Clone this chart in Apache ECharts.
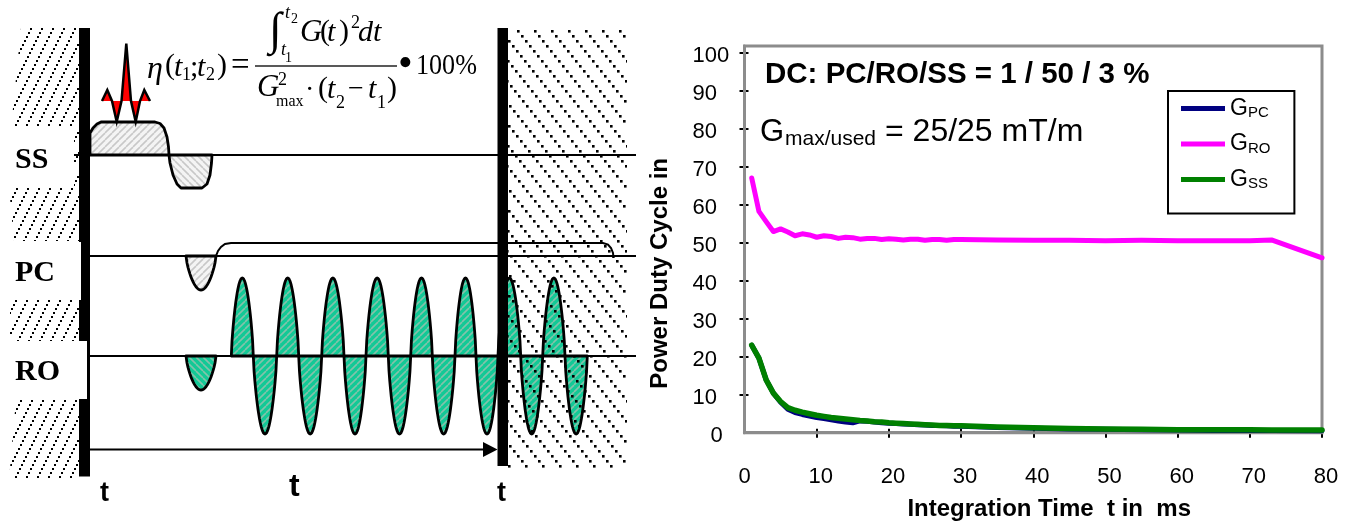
<!DOCTYPE html>
<html><head><meta charset="utf-8">
<style>html,body{margin:0;padding:0;background:#fff}#c{width:1359px;height:522px}</style>
<script src="https://cdn.jsdelivr.net/npm/echarts@6/dist/echarts.min.js"></script>
</head><body><div id="c"></div>
<script>
// ---- right panel data ----
const integrationTime = [1,2,3,4,5,6,7,8,9,10,11,12,13,14,15,16,17,18,19,20,21,22,23,24,25,26,27,28,29,30,35,40,45,50,55,60,65,70,73,80];
const gPC = [23,19.6,13.9,10.4,8,6.2,5.3,4.8,4.4,4,3.7,3.4,3.1,2.8,2.6,3.1,3,2.8,2.6,2.5,2.4,2.3,2.2,2.1,2,1.9,1.9,1.8,1.7,1.7,1.4,1.2,1,.9,.8,.7,.6,.6,.6,.5];
const gRO = [67,58.2,55.5,52.9,53.6,52.8,51.8,52.3,52,51.4,51.8,51.6,51.1,51.4,51.3,50.9,51.1,51.1,50.8,51,50.9,50.7,50.9,50.9,50.6,50.8,50.8,50.6,50.8,50.8,50.7,50.6,50.6,50.5,50.6,50.5,50.5,50.5,50.7,46];
const gSS = [23,19.6,13.9,10.4,8.2,6.6,5.9,5.4,5,4.6,4.3,4,3.8,3.6,3.4,3.2,3.1,2.9,2.8,2.6,2.5,2.4,2.3,2.2,2.1,2,1.9,1.9,1.8,1.8,1.5,1.3,1.1,1,.9,.8,.8,.8,.7,.7];
const yTicks = [0,10,20,30,40,50,60,70,80,90,100];
const xTicks = [0,10,20,30,40,50,60,70,80];

// ---- pulse-sequence schematic (left panel), in schematic units ----
const baselineSS = 155, baselinePC = 256, baselineRO = 356;
const baselines = [[[74,155],[636,155]],[[81,256],[636,256]],[[88,356],[636,356]]];
const timeArrow = [[90,449.5],[484,449.5]];
const arrowHead = [[[483,442],[497.5,449.5],[483,457]]];
const wallBars = [[79,28,90,242],[81,242,90,300],[79,300,90,341],[87,341,90,399],[79,399,90,476.5],[497.5,28,508,466]];
const ssLobes = [
  [[90,155],[90,133],[93,128],[97,124],[101,122],[155,122],[160,123.5],[164,128],[167,137],[168.5,147],[169,155]],
  [[169,155],[170,163],[173,175],[177,184],[181,188],[202,188],[207,184],[210,175],[211.5,163],[212,155]]
];
const pcPrephase = [[186,216,-34]];
const pcPlateau = [[[216,256],[218,251],[221,247],[225,244],[231,243],[603,243],[608,244.5],[611,248],[613,253],[613.5,258]]];
const roPrephase = [[186,216,-34]];
const roLobes = [[231.3,253.3,78],[253.3,276.7,-78],[276.7,298.7,78],[298.7,321.7,-78],[321.7,344,78],[344,366,-78],[366,388.3,78],[388.3,410.7,-78],[410.7,432.3,78],[432.3,455,-78],[455,476,78],[476,498,-78],[498,520.7,78],[520.7,542.7,-78],[542.7,565,78],[565,587.3,-78]];
const rfOutline = [[[102,101],[107.3,90],[112,101],[116.7,121.7],[121.5,101],[126.3,43.5],[131,101],[135.7,121.7],[140,101],[144.3,90],[150,101]]];
const leftDots = [
  [[21,28],[79,28],[79,128],[11,128]],
  [[74,128],[79,128],[79,187],[74,187]],
  [[9,187],[79,187],[79,241],[14,241]],
  [[10,300],[79,300],[79,341],[10,341]],
  [[16,399],[79,399],[79,480],[9,480]]
];
const rightDots = [[[508,28],[627,28],[627,470],[508,470]]];

// ---- texts ----
const serif = 'Liberation Serif', sans = 'Liberation Sans';
const formulaBits = [
  ['η',147,70,32,1],['(',165,66,30,0],['t',174,68,30,1],['1',182,75,18,0],[';',190,68,30,0],['t',197,68,30,1],['2',206,75,18,0],[')',217,66,30,0],['=',231,66,33,0],
  ['∫',269,32,46,1],['t',285,13,18,1],['2',291,19,14,0],['t',281,50,18,1],['1',285,58,14,0],
  ['G',300,33,31,1],['(',320,32,30,0],['t',327,33,30,1],[')',339,32,30,0],['2',351,23,18,0],['d',358,33,30,1],['t',373,33,30,1],
  ['G',257,88,31,1],['2',278,80,18,0],['max',276,102,16,0],['·',305,91,28,0],['(',318,89,30,0],['t',327,90,30,1],['2',336,103,18,0],['−',348,90,28,0],['t',368,90,30,1],['1',377,103,18,0],[')',387,89,30,0]
  ,['•',398,65,42,0]
];

function dotPattern(ax, ay, w, h, s) {
  const c = document.createElement('canvas'); c.width = w; c.height = h;
  const g = c.getContext('2d'); g.fillStyle = '#000';
  const n = Math.round(h / Math.abs(ay));
  for (let i = 0; i < n; i++) {
    const x = ((i * ax) % w + w) % w, y = ((i * ay) % h + h) % h;
    [0, -w].forEach(dx => [0, -h].forEach(dy => g.fillRect(x + dx, y + dy, s, s)));
  }
  return { image: c, repeat: 'repeat' };
}
function hatch(base, stripe, dir, lw) {
  const s = 7, c = document.createElement('canvas'); c.width = s; c.height = s;
  const g = c.getContext('2d'); g.fillStyle = base; g.fillRect(0,0,s,s);
  g.strokeStyle = stripe; g.lineWidth = lw;
  for (let k = -s; k <= 2*s; k += s) {
    g.beginPath();
    if (dir > 0) { g.moveTo(k, s); g.lineTo(k + s, 0); } else { g.moveTo(k, 0); g.lineTo(k + s, s); }
    g.stroke();
  }
  return { image: c, repeat: 'repeat' };
}
function lobeOutline(base, l, pow) {
  const pts = [], n = 30;
  for (let i = 0; i <= n; i++) {
    const t = i / n;
    pts.push([l[0] + (l[1]-l[0]) * t, base - l[2] * Math.pow(Math.sin(Math.PI * t), pow)]);
  }
  return pts;
}
function shapeSeries(name, kind, shapes, style, z) {
  return {
    type: 'custom', name, xAxisIndex: 2, yAxisIndex: 2, z, clip: false, silent: true, coordinateSystem: 'cartesian2d',
    data: shapes.map(s => [s[0][0], s[0][1]]),
    renderItem(params, api) {
      return { type: kind, shape: { points: shapes[params.dataIndex].map(p => api.coord(p)) }, style: Object.assign({}, style) };
    }
  };
}
const greyUp = hatch('#f4f4f4', '#c8c8c8', 1, 1.6), greyDown = hatch('#f4f4f4', '#c8c8c8', -1, 1.6);
const greenUp = hatch('#12c996', '#84c2aa', 1, 1.6), greenDown = hatch('#12c996', '#84c2aa', -1, 1.6);
const ink = { stroke: '#000', lineWidth: 2.8, lineJoin: 'round' };
const rects = wallBars.map(b => [[b[0],b[1]],[b[2],b[1]],[b[2],b[3]],[b[0],b[3]]]);
const roPos = roLobes.filter(l => l[2] > 0).map(l => lobeOutline(baselineRO, l, .72));
const roNeg = roLobes.filter(l => l[2] < 0).map(l => lobeOutline(baselineRO, l, .72));

const schematic = [
  shapeSeries('ssPos','polygon',[ssLobes[0]],Object.assign({fill:greyUp},ink),3),
  shapeSeries('ssNeg','polygon',[ssLobes[1]],Object.assign({fill:greyDown},ink),3),
  shapeSeries('pcNeg','polygon',pcPrephase.map(l=>lobeOutline(baselinePC,l,.7)),Object.assign({fill:greyUp},ink),3),
  shapeSeries('roPre','polygon',roPrephase.map(l=>lobeOutline(baselineRO,l,.7)),Object.assign({fill:greenDown},ink),3),
  shapeSeries('roPos','polygon',roPos,Object.assign({fill:greenUp},ink),3),
  shapeSeries('roNeg','polygon',roNeg,Object.assign({fill:greenUp},ink),3),
  shapeSeries('rfFill','polygon',rfOutline,{fill:'#ff0000'},3),
  shapeSeries('rfLine','polyline',rfOutline,{fill:null,stroke:'#000',lineWidth:2.5,lineJoin:'miter'},4),
  shapeSeries('pcPlateau','polyline',pcPlateau,{fill:null,stroke:'#000',lineWidth:2},4),
  shapeSeries('leftDots','polygon',leftDots,{fill:dotPattern(2,-4,11,44,2)},5),
  shapeSeries('rightDots','polygon',rightDots,{fill:dotPattern(4,5,17,85,2.6)},5),
  shapeSeries('baselines','polyline',baselines,{fill:null,stroke:'#000',lineWidth:2},6),
  shapeSeries('arrow','polyline',[timeArrow],{fill:null,stroke:'#000',lineWidth:2},6),
  shapeSeries('arrowHead','polygon',arrowHead,{fill:'#000'},6),
  shapeSeries('bars','polygon',rects,{fill:'#000'},7)
];

const txt = (text, x, y, font, size, opt) => ({
  type: 'text', x, y, z: 50, silent: true, scaleX: (opt && opt.sx) || 1,
  style: { text, fontFamily: font, fontSize: size, fontWeight: (opt && opt.bold) ? 'bold' : 'normal', fontStyle: (opt && opt.italic) ? 'italic' : 'normal', fill: '#000', verticalAlign: 'middle', align: 'left' }
});
const graphics = [
  ...formulaBits.map(b => txt(b[0], b[1], b[2], serif, b[3], { italic: !!b[4] })),
  { type: 'rect', z: 50, silent: true, shape: { x: 255, y: 65.2, width: 142, height: 1.5 }, style: { fill: '#222' } },
  txt('100%', 416, 66, serif, 29, { sx: .9 }),
  txt('SS', 15, 160, serif, 30, { bold: true }),
  txt('PC', 15, 273, serif, 30, { bold: true }),
  txt('RO', 15, 372, serif, 30, { bold: true }),
  txt('t', 100, 494, sans, 27, { bold: true }),
  txt('t', 289, 487, sans, 32, { bold: true }),
  txt('t', 497, 494, sans, 27, { bold: true }),
  txt('DC: PC/RO/SS = 1 / 50 / 3 %', 765, 75, sans, 29.5, { bold: true }),
  txt('G', 760, 132, sans, 31),
  txt('max/used', 785, 139, sans, 21),
  txt('= 25/25 mT/m', 885, 132, sans, 32)
];

const line = (name, data, color, width, z) => ({
  type: 'line', name, xAxisIndex: 0, yAxisIndex: 0, z, clip: false, showSymbol: false, symbol: 'none',
  data: integrationTime.map((t, i) => [t, data[i]]),
  lineStyle: { color, width, cap: 'round', join: 'round' }, itemStyle: { color }
});
const hidden = { axisLine: { show: false }, axisLabel: { show: false }, splitLine: { show: false } };
const tickStyle = { lineStyle: { color: '#000', width: 2 } };
const yMax = 101.7;

const option = {
  animation: false, backgroundColor: '#fff',
  grid: [
    { left: 744.5, right: 37, top: 46, bottom: 89.3, show: true, borderColor: '#8c8c8c', borderWidth: 3, backgroundColor: 'transparent', z: 1, outerBoundsMode: 'none', containLabel: false },
    { left: 0, top: 0, width: 640, height: 522, show: false, outerBoundsMode: 'none' }
  ],
  xAxis: [
    { type: 'value', gridIndex: 0, min: 0, max: 80, interval: 10, position: 'bottom', splitLine: { show: false },
      axisLine: { lineStyle: { color: '#8c8c8c', width: 3 } },
      axisTick: Object.assign({ length: 5, customValues: xTicks.slice(1) }, tickStyle),
      axisLabel: { customValues: xTicks, margin: 33, fontFamily: sans, fontSize: 22, color: '#000', formatter: v => v === 0 ? '{n|0}' : '{p|' + v + '}', rich: { n: { fontFamily: sans, fontSize: 22, color: '#000' }, p: { fontFamily: sans, fontSize: 22, color: '#000', padding: [0,0,0,8] } } },
      name: 'Integration Time  t in  ms', nameLocation: 'middle', nameGap: 65,
      nameTextStyle: { fontFamily: sans, fontSize: 24, fontWeight: 'bold', color: '#000', padding: [0,0,0,32] } },
    Object.assign({ type: 'value', gridIndex: 0, min: 0, max: 80, interval: 10, position: 'bottom', axisTick: Object.assign({ inside: true, length: 4, customValues: xTicks.slice(1) }, tickStyle) }, hidden),
    { type: 'value', gridIndex: 1, min: 0, max: 640, show: false }
  ],
  yAxis: [
    { type: 'value', gridIndex: 0, min: 0, max: yMax, position: 'left', splitLine: { show: false },
      axisLine: { lineStyle: { color: '#8c8c8c', width: 3 } },
      axisTick: Object.assign({ length: 5, customValues: yTicks.slice(1) }, tickStyle),
      axisLabel: { customValues: yTicks, margin: 52, align: 'left', fontFamily: sans, fontSize: 22, color: '#000', padding: [7,0,0,0],
        formatter: v => v === 0 ? '{z|0}' : '' + v, rich: { z: { fontFamily: sans, fontSize: 22, color: '#000', padding: [0,0,0,18] } } },
      name: 'Power Duty Cycle in', nameLocation: 'middle', nameGap: 72,
      nameTextStyle: { fontFamily: sans, fontSize: 24, fontWeight: 'bold', color: '#000', padding: [0,68,0,0] } },
    Object.assign({ type: 'value', gridIndex: 0, min: 0, max: yMax, position: 'left', axisTick: Object.assign({ inside: true, length: 4, customValues: yTicks.slice(1) }, tickStyle) }, hidden),
    { type: 'value', gridIndex: 1, min: 0, max: 522, inverse: true, show: false }
  ],
  legend: {
    orient: 'vertical', left: 1168, top: 91, data: ['GPC','GRO','GSS'], icon: 'rect', itemWidth: 44, itemHeight: 5, itemGap: 12,
    padding: [6,24,22,13], borderColor: '#000', borderWidth: 2, backgroundColor: '#fff', selectedMode: false, z: 10,
    formatter: n => '{g|G}{s|' + n.slice(1) + '}',
    textStyle: { rich: { g: { fontFamily: sans, fontSize: 23, color: '#000', lineHeight: 24 }, s: { fontFamily: sans, fontSize: 15, color: '#000', lineHeight: 24, verticalAlign: 'bottom' } } }
  },
  series: [
    line('GPC', gPC, '#000080', 5, 4),
    line('GRO', gRO, '#ff00ff', 5, 4),
    line('GSS', gSS, '#008000', 5.5, 5),
    ...schematic
  ],
  graphic: { elements: graphics }
};
echarts.init(document.getElementById('c'), null, { renderer: 'canvas' }).setOption(option);
</script></body></html>
